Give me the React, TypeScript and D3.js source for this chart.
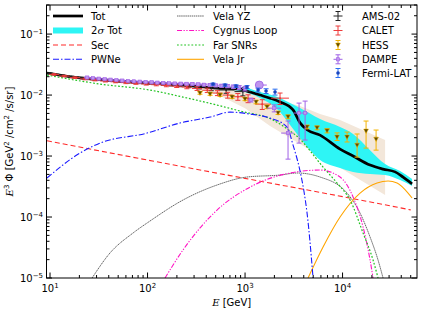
import { useEffect, useRef } from 'react';
import * as d3 from 'd3';

type Pt = [number, number]; // E [GeV], E^3 flux
type Band = [number, number, number]; // E, low, high
type Datum = [number, number, number, number]; // E, value, low, high

// model curves
const totModel: Pt[] = [
  [9.3, 0.023], [17.2, 0.0197], [38.4, 0.0176], [106, 0.0157], [231, 0.0146],
  [516, 0.013], [889, 0.0125], [1125, 0.0112], [1425, 0.01], [1805, 0.0089],
  [2285, 0.0077], [3107, 0.0057], [3665, 0.0035], [4325, 0.0027], [5878, 0.0022],
  [9428, 0.0013], [12820, 0.001], [19150, 0.00071], [26020, 0.00061],
  [34540, 0.00055], [41760, 0.00045], [51620, 0.00035],
];
const secModel: Pt[] = [
  [9.3, 0.00178], [100, 0.00086], [1000, 0.00043], [10000, 0.000216], [50000, 0.000131],
];
const pwneModel: Pt[] = [
  [9.3, 0.000436], [20.3, 0.00112], [32.6, 0.00163], [98.8, 0.00238], [215, 0.00348],
  [438, 0.00436], [702, 0.00526], [1125, 0.00488], [1805, 0.0042], [2697, 0.00299],
  [3107, 0.00151], [3665, 0.000567], [4030, 0.000257], [4325, 0.000116], [4984, 1e-5],
];
const velaYZModel: Pt[] = [
  [27, 1e-5], [41.2, 2.57e-5], [71, 5.47e-5], [106, 8.6e-5], [231, 0.00019],
  [516, 0.000335], [1048, 0.000453], [2285, 0.000488], [3415, 0.000527],
  [5878, 0.000453], [11120, 0.000247], [15120, 0.000116], [19150, 4.7e-5],
  [23120, 1.97e-5], [26020, 1e-5],
];
const cygnusModel: Pt[] = [
  [151, 1e-5], [231, 2.88e-5], [516, 0.00013], [1125, 0.00031], [2895, 0.000527],
  [5878, 0.000589], [9428, 0.000453], [12820, 0.000213], [16230, 6.86e-5],
  [19150, 1.97e-5], [20550, 1e-5],
];
const farSNRModel: Pt[] = [
  [9.3, 0.0213], [32.6, 0.01515], [106, 0.01208], [231, 0.00927], [516, 0.00686],
  [889, 0.00547], [1938, 0.00389], [2895, 0.00257], [3665, 0.0019], [4325, 0.0014],
  [6310, 0.00066], [8780, 0.000361], [11940, 0.00019], [16230, 5.47e-5],
  [20550, 1.97e-5], [23120, 1e-5],
];
const velaJrModel: Pt[] = [
  [4427, 1e-5], [6310, 3.22e-5], [9428, 0.0001], [15120, 0.000247], [22590, 0.000361],
  [29300, 0.000389], [36240, 0.000361], [46960, 0.000247], [51620, 0.000205],
];

// bands
const sigmaBand: Band[] = [
  [702, 0.01208, 0.01302], [889, 0.01163, 0.01352], [1425, 0.00893, 0.0112],
  [2285, 0.00526, 0.00893], [2895, 0.00322, 0.00739], [3665, 0.00197, 0.00612],
  [5878, 0.00086, 0.00404], [9428, 0.000636, 0.00299], [12820, 0.000547, 0.0023],
  [19150, 0.000507, 0.00125], [27300, 0.000488, 0.00074], [38890, 0.000404, 0.000567],
  [51620, 0.000322, 0.00042],
];
const hessBand: Band[] = [
  [345, 0.0121, 0.0135], [516, 0.0103, 0.0135], [1000, 0.0061, 0.0116],
  [1805, 0.0031, 0.0089], [3665, 0.00157, 0.0066], [5878, 0.001, 0.0049],
  [9428, 0.00064, 0.0039], [27300, 0.00023, 0.00183],
];

// measurements
const ams02: Datum[] = [
  [10, 0.0227, 0.0224, 0.023], [11, 0.0221, 0.0218, 0.0224], [12.2, 0.0215, 0.0212, 0.0218],
  [13.5, 0.021, 0.0207, 0.0213], [15, 0.0205, 0.0202, 0.0208], [16.6, 0.02, 0.0197, 0.0203],
  [18.5, 0.0195, 0.0192, 0.0198], [20.5, 0.0191, 0.0188, 0.0194], [23, 0.0187, 0.0184, 0.019],
  [26, 0.0183, 0.018, 0.0186], [29, 0.0179, 0.0176, 0.0182], [33, 0.0176, 0.0173, 0.0179],
  [37, 0.0173, 0.017, 0.0176], [42, 0.017, 0.0167, 0.0173], [48, 0.0167, 0.0164, 0.017],
  [55, 0.0164, 0.0161, 0.0167], [63, 0.0162, 0.0158, 0.0166], [73, 0.016, 0.0156, 0.0164],
  [85, 0.0158, 0.0154, 0.0162], [100, 0.0156, 0.0151, 0.0161], [120, 0.0154, 0.0149, 0.0159],
  [145, 0.0151, 0.0145, 0.0157], [175, 0.0148, 0.0141, 0.0155], [215, 0.0145, 0.0137, 0.0153],
  [265, 0.0141, 0.0132, 0.015], [340, 0.0136, 0.0126, 0.0146], [450, 0.013, 0.0118, 0.0142],
  [640, 0.0121, 0.0107, 0.0135], [950, 0.0114, 0.0097, 0.0131],
];
const calet: Datum[] = [
  [11, 0.0218, 0.0212, 0.0224], [14, 0.0205, 0.0199, 0.0211], [18, 0.0193, 0.0187, 0.0199],
  [23, 0.0184, 0.0178, 0.019], [29, 0.0177, 0.0171, 0.0183], [37, 0.017, 0.0164, 0.0176],
  [47, 0.0165, 0.0159, 0.0171], [60, 0.016, 0.0154, 0.0166], [76, 0.0156, 0.015, 0.0162],
  [97, 0.0152, 0.0146, 0.0158], [123, 0.0148, 0.0142, 0.0154], [156, 0.0144, 0.0137, 0.0151],
  [199, 0.014, 0.0133, 0.0147], [253, 0.0135, 0.0127, 0.0143], [322, 0.0128, 0.0119, 0.0137],
  [410, 0.012, 0.011, 0.013], [521, 0.0108, 0.0098, 0.0118], [663, 0.01, 0.0089, 0.0111],
  [844, 0.0094, 0.0082, 0.0106], [1074, 0.0088, 0.0075, 0.0101], [1500, 0.0071, 0.0058, 0.0084],
  [2285, 0.0089, 0.007, 0.0108],
];
const hess: Datum[] = [
  [345, 0.0108, 0.0103, 0.0113], [438, 0.0104, 0.0099, 0.0109], [554, 0.01, 0.0095, 0.0105],
  [736, 0.0093, 0.0088, 0.0098], [1000, 0.0086, 0.0081, 0.0091], [1297, 0.0077, 0.0072, 0.0082],
  [1682, 0.0064, 0.006, 0.0068], [2180, 0.0051, 0.0048, 0.0054], [2761, 0.0044, 0.0041, 0.0047],
  [4325, 0.003, 0.0028, 0.0032], [5475, 0.0029, 0.0027, 0.0031], [6934, 0.0026, 0.0024, 0.0028],
  [8780, 0.00205, 0.0018, 0.0024], [11120, 0.00205, 0.0017, 0.00247],
  [14090, 0.00151, 0.00096, 0.0023], [17420, 0.00257, 0.00135, 0.00375],
  [22070, 0.00189, 0.00125, 0.00267],
];
const dampe: Datum[] = [
  [24, 0.0194, 0.019, 0.0198], [27.5, 0.019, 0.0186, 0.0194], [31.6, 0.0186, 0.0182, 0.019],
  [36.3, 0.0182, 0.0178, 0.0186], [41.7, 0.0179, 0.0175, 0.0183], [47.9, 0.0176, 0.0172, 0.018],
  [55, 0.0173, 0.0169, 0.0177], [63.1, 0.017, 0.0166, 0.0174], [72.4, 0.0168, 0.0164, 0.0172],
  [83.2, 0.0166, 0.0162, 0.017], [95.5, 0.0164, 0.016, 0.0168], [110, 0.0162, 0.0158, 0.0166],
  [126, 0.016, 0.0156, 0.0164], [145, 0.0158, 0.0154, 0.0162], [166, 0.0156, 0.0152, 0.016],
  [190, 0.0155, 0.015, 0.016], [219, 0.0154, 0.0149, 0.0159], [251, 0.0153, 0.0148, 0.0158],
  [288, 0.0152, 0.0146, 0.0158], [331, 0.015, 0.0144, 0.0156], [380, 0.0148, 0.0142, 0.0154],
  [437, 0.0146, 0.0139, 0.0153], [501, 0.0144, 0.0137, 0.0151], [575, 0.0142, 0.0134, 0.015],
  [661, 0.014, 0.0132, 0.0148], [759, 0.0137, 0.0128, 0.0146], [871, 0.0133, 0.0123, 0.0143],
  [1000, 0.0128, 0.0117, 0.0139], [1148, 0.0083, 0.0077, 0.0089], [1400, 0.0146, 0.013, 0.0162],
  [1995, 0.0061, 0.0053, 0.0069], [2760, 0.00238, 0.00089, 0.00375],
  [3580, 0.00507, 0.00163, 0.00739], [4130, 0.00507, 0.00183, 0.00797],
];
const dampePeakE = 1400;
const fermi: Datum[] = [
  [470, 0.01515, 0.0146, 0.0157], [624, 0.01458, 0.014, 0.0152], [809, 0.01404, 0.0134, 0.0147],
  [1048, 0.01352, 0.0128, 0.0143], [1360, 0.01208, 0.0112, 0.013], [1643, 0.01163, 0.0106, 0.0127],
  [2030, 0.0112, 0.01, 0.0125],
];

const xMajor = [10, 100, 1000, 10000];
const xExp = ['1', '2', '3', '4'];
const yMajor = [1e-5, 1e-4, 1e-3, 1e-2, 1e-1];
const yExp = ['−5', '−4', '−3', '−2', '−1'];

const modelLabels = ['Tot', '2σ Tot', 'Sec', 'PWNe'];
const snrLabels = ['Vela YZ', 'Cygnus Loop', 'Far SNRs', 'Vela Jr'];
const dataLabels = ['AMS-02', 'CALET', 'HESS', 'DAMPE', 'Fermi-LAT'];

const W = 421;
const H = 316;
const margin = { top: 5, right: 4, bottom: 38, left: 46.5 };
const FONT = 'DejaVu Sans, sans-serif';

const lineStyles: Record<string, { stroke: string; width: number; dash: string }> = {
  tot: { stroke: '#000', width: 2.7, dash: '' },
  sec: { stroke: '#ff2a2a', width: 1.1, dash: '5,3' },
  pwne: { stroke: '#1a1aff', width: 1.1, dash: '6,2,1.5,2' },
  velaYZ: { stroke: '#555', width: 0.9, dash: '1.5,0.6' },
  cygnus: { stroke: '#ff14c4', width: 1.1, dash: '5,1.5,1.3,1.5,1.3,1.5' },
  far: { stroke: '#22c322', width: 1.2, dash: '1.8,1.8' },
  velaJr: { stroke: '#ffa500', width: 1.1, dash: '' },
};

const App = () => {
  const svgRef = useRef<SVGSVGElement>(null);

  useEffect(() => {
    if (!svgRef.current) return;
    const svg = d3.select(svgRef.current);
    svg.selectAll('*').remove();

    const x0 = margin.left;
    const x1 = W - margin.right;
    const y0 = H - margin.bottom;
    const y1 = margin.top;

    const x = d3.scaleLog().domain([9.2, 5.8e4]).range([x0, x1]);
    const y = d3.scaleLog().domain([1e-5, 0.3]).range([y0, y1]);

    svg.append('defs').append('clipPath').attr('id', 'plot-clip')
      .append('rect').attr('x', x0).attr('y', y1).attr('width', x1 - x0).attr('height', y0 - y1);

    const plot = svg.append('g').attr('clip-path', 'url(#plot-clip)');

    // bands
    const area = d3.area<Band>().x(d => x(d[0])).y0(d => y(d[1])).y1(d => y(d[2]));
    plot.append('path').datum(hessBand).attr('d', area.curve(d3.curveLinear)).attr('fill', '#f3e7da');
    plot.append('path').datum(sigmaBand).attr('d', area.curve(d3.curveMonotoneX)).attr('fill', '#2ef5f5');

    const line = d3.line<Pt>().x(d => x(d[0])).y(d => y(d[1])).curve(d3.curveMonotoneX);
    const drawModel = (data: Pt[], key: string) => {
      const s = lineStyles[key];
      plot.append('path').datum(data).attr('d', line).attr('fill', 'none')
        .attr('stroke', s.stroke).attr('stroke-width', s.width)
        .attr('stroke-dasharray', s.dash || null);
    };
    drawModel(secModel, 'sec');
    drawModel(velaYZModel, 'velaYZ');
    drawModel(cygnusModel, 'cygnus');
    drawModel(velaJrModel, 'velaJr');
    drawModel(farSNRModel, 'far');
    drawModel(pwneModel, 'pwne');
    drawModel(totModel, 'tot');

    // error bars
    const drawData = (data: Datum[], color: string, xbar: boolean, marker: string, mFill: string) => {
      const g = plot.append('g');
      data.forEach((d, i) => {
        const cx = x(d[0]);
        const cy = y(d[1]);
        if (xbar) {
          const prev = data[i - 1];
          const next = data[i + 1];
          const hi = next ? Math.sqrt(next[0] * d[0]) : (d[0] * d[0]) / Math.sqrt(prev[0] * d[0]);
          const lo = prev ? Math.sqrt(prev[0] * d[0]) : (d[0] * d[0]) / hi;
          g.append('line').attr('x1', x(lo)).attr('x2', x(hi)).attr('y1', cy).attr('y2', cy)
            .attr('stroke', color).attr('stroke-width', 1);
        }
        const ylo = y(d[2]);
        const yhi = y(d[3]);
        g.append('line').attr('x1', cx).attr('x2', cx).attr('y1', ylo).attr('y2', yhi)
          .attr('stroke', color).attr('stroke-width', 1);
        [ylo, yhi].forEach(v => {
          g.append('line').attr('x1', cx - 2.5).attr('x2', cx + 2.5).attr('y1', v).attr('y2', v)
            .attr('stroke', color).attr('stroke-width', 1);
        });
        if (marker === 'square') {
          if (d[0] === dampePeakE) {
            g.append('circle').attr('cx', cx).attr('cy', cy).attr('r', 4)
              .attr('fill', mFill).attr('stroke', color).attr('stroke-width', 0.8);
          } else {
            g.append('rect').attr('x', cx - 1.6).attr('y', cy - 1.6).attr('width', 3.2).attr('height', 3.2)
              .attr('fill', mFill).attr('stroke', color).attr('stroke-width', 0.6);
          }
        } else if (marker === 'tri') {
          g.append('path').attr('d', `M${cx - 2.4},${cy - 2}L${cx + 2.4},${cy - 2}L${cx},${cy + 2.4}Z`)
            .attr('fill', mFill).attr('stroke', color).attr('stroke-width', 0.5);
        } else if (marker === 'dot') {
          g.append('circle').attr('cx', cx).attr('cy', cy).attr('r', 1.8).attr('fill', mFill);
        } else {
          g.append('circle').attr('cx', cx).attr('cy', cy).attr('r', 1).attr('fill', mFill);
        }
      });
    };
    drawData(ams02, '#222', true, 'small', '#222');
    drawData(calet, '#ee3a3a', true, 'small', '#ee3a3a');
    drawData(hess, '#f4b400', false, 'tri', '#5e4b00');
    drawData(dampe, '#a062e6', true, 'square', '#bf95ee');
    drawData(fermi, '#2a6ef0', false, 'dot', '#1845c0');

    // frame and ticks
    const axes = svg.append('g').attr('stroke', '#000').attr('stroke-width', 1);
    axes.append('rect').attr('x', x0).attr('y', y1).attr('width', x1 - x0).attr('height', y0 - y1)
      .attr('fill', 'none');
    x.ticks().forEach(t => {
      const major = xMajor.includes(t);
      const len = major ? 5.5 : 3;
      const px = x(t);
      axes.append('line').attr('x1', px).attr('x2', px).attr('y1', y0).attr('y2', y0 - len);
      axes.append('line').attr('x1', px).attr('x2', px).attr('y1', y1).attr('y2', y1 + len);
    });
    y.ticks().forEach(t => {
      const major = yMajor.some(m => Math.abs(m - t) / m < 1e-6);
      const len = major ? 5.5 : 3;
      const py = y(t);
      axes.append('line').attr('x1', x0).attr('x2', x0 + len).attr('y1', py).attr('y2', py);
      axes.append('line').attr('x1', x1).attr('x2', x1 - len).attr('y1', py).attr('y2', py);
    });

    const labels = svg.append('g').attr('font-family', FONT).attr('font-size', 10).attr('fill', '#000');
    xMajor.forEach((t, i) => {
      const txt = labels.append('text').attr('x', x(t)).attr('y', 292).attr('text-anchor', 'middle');
      txt.append('tspan').text('10');
      txt.append('tspan').attr('dy', -4.5).attr('font-size', 7).text(xExp[i]);
    });
    yMajor.forEach((t, i) => {
      const txt = labels.append('text').attr('x', 43).attr('y', y(t) + 4).attr('text-anchor', 'end');
      txt.append('tspan').text('10');
      txt.append('tspan').attr('dy', -4.5).attr('font-size', 7).text(yExp[i]);
    });

    // axis titles
    const xt = labels.append('text').attr('x', (x0 + x1) / 2).attr('y', 306).attr('text-anchor', 'middle');
    xt.append('tspan').attr('font-family', 'DejaVu Serif, serif').attr('font-style', 'italic').text('E');
    xt.append('tspan').text(' [GeV]');

    const yt = labels.append('text').attr('text-anchor', 'middle')
      .attr('transform', `translate(13,${(y0 + y1) / 2}) rotate(-90)`);
    yt.append('tspan').attr('font-family', 'DejaVu Serif, serif').attr('font-style', 'italic').text('E');
    yt.append('tspan').attr('dy', -4).attr('font-size', 7).text('3');
    yt.append('tspan').attr('dy', 4).text(' Φ [GeV');
    yt.append('tspan').attr('dy', -4).attr('font-size', 7).text('2');
    yt.append('tspan').attr('dy', 4).text(' /cm');
    yt.append('tspan').attr('dy', -4).attr('font-size', 7).text('2');
    yt.append('tspan').attr('dy', 4).text(' /s/sr]');

    // legends
    const rows = [16, 30.5, 45, 59.3, 73];
    const leg = svg.append('g');
    const legLine = (xa: number, xb: number, ry: number, key: string) => {
      const s = lineStyles[key];
      leg.append('line').attr('x1', xa).attr('x2', xb).attr('y1', ry).attr('y2', ry)
        .attr('stroke', s.stroke).attr('stroke-width', s.width).attr('stroke-dasharray', s.dash || null);
    };
    legLine(53, 83, rows[0], 'tot');
    leg.append('rect').attr('x', 53).attr('y', rows[1] - 3).attr('width', 30).attr('height', 6).attr('fill', '#2ef5f5');
    legLine(53, 83, rows[2], 'sec');
    legLine(53, 83, rows[3], 'pwne');
    modelLabels.forEach((l, i) => {
      const t = labels.append('text').attr('x', 91).attr('y', rows[i] + 3.6);
      if (l.includes('σ')) {
        t.append('tspan').text('2');
        t.append('tspan').attr('font-family', 'DejaVu Serif, serif').attr('font-style', 'italic').text('σ');
        t.append('tspan').text(' Tot');
      } else {
        t.text(l);
      }
    });

    ['velaYZ', 'cygnus', 'far', 'velaJr'].forEach((k, i) => legLine(177, 204, rows[i], k));
    snrLabels.forEach((l, i) => {
      labels.append('text').attr('x', 213).attr('y', rows[i] + 3.6).text(l);
    });

    const mx = 338;
    const legData: [string, string, boolean, string][] = [
      ['#222', '#222', true, 'small'],
      ['#ee3a3a', '#ee3a3a', true, 'small'],
      ['#f4b400', '#5e4b00', false, 'tri'],
      ['#a062e6', '#bf95ee', true, 'square'],
      ['#2a6ef0', '#1845c0', false, 'dot'],
    ];
    legData.forEach(([c, f, xb, m], i) => {
      const ry = rows[i];
      leg.append('line').attr('x1', mx).attr('x2', mx).attr('y1', ry - 4.5).attr('y2', ry + 4.5).attr('stroke', c);
      [ry - 4.5, ry + 4.5].forEach(v => {
        leg.append('line').attr('x1', mx - 2.5).attr('x2', mx + 2.5).attr('y1', v).attr('y2', v).attr('stroke', c);
      });
      if (xb) leg.append('line').attr('x1', mx - 4.5).attr('x2', mx + 4.5).attr('y1', ry).attr('y2', ry).attr('stroke', c);
      if (m === 'tri') {
        leg.append('path').attr('d', `M${mx - 2.4},${ry - 2}L${mx + 2.4},${ry - 2}L${mx},${ry + 2.4}Z`)
          .attr('fill', f).attr('stroke', c).attr('stroke-width', 0.5);
      } else if (m === 'square') {
        leg.append('rect').attr('x', mx - 1.6).attr('y', ry - 1.6).attr('width', 3.2).attr('height', 3.2)
          .attr('fill', f).attr('stroke', c).attr('stroke-width', 0.6);
      } else if (m === 'dot') {
        leg.append('circle').attr('cx', mx).attr('cy', ry).attr('r', 1.8).attr('fill', f);
      }
      labels.append('text').attr('x', 362).attr('y', ry + 3.6).text(dataLabels[i]);
    });
  }, []);

  return (
    <svg
      ref={svgRef}
      width={W}
      height={H}
      style={{ position: 'absolute', left: 0, top: 0, background: '#fff' }}
    />
  );
};

export default App;
